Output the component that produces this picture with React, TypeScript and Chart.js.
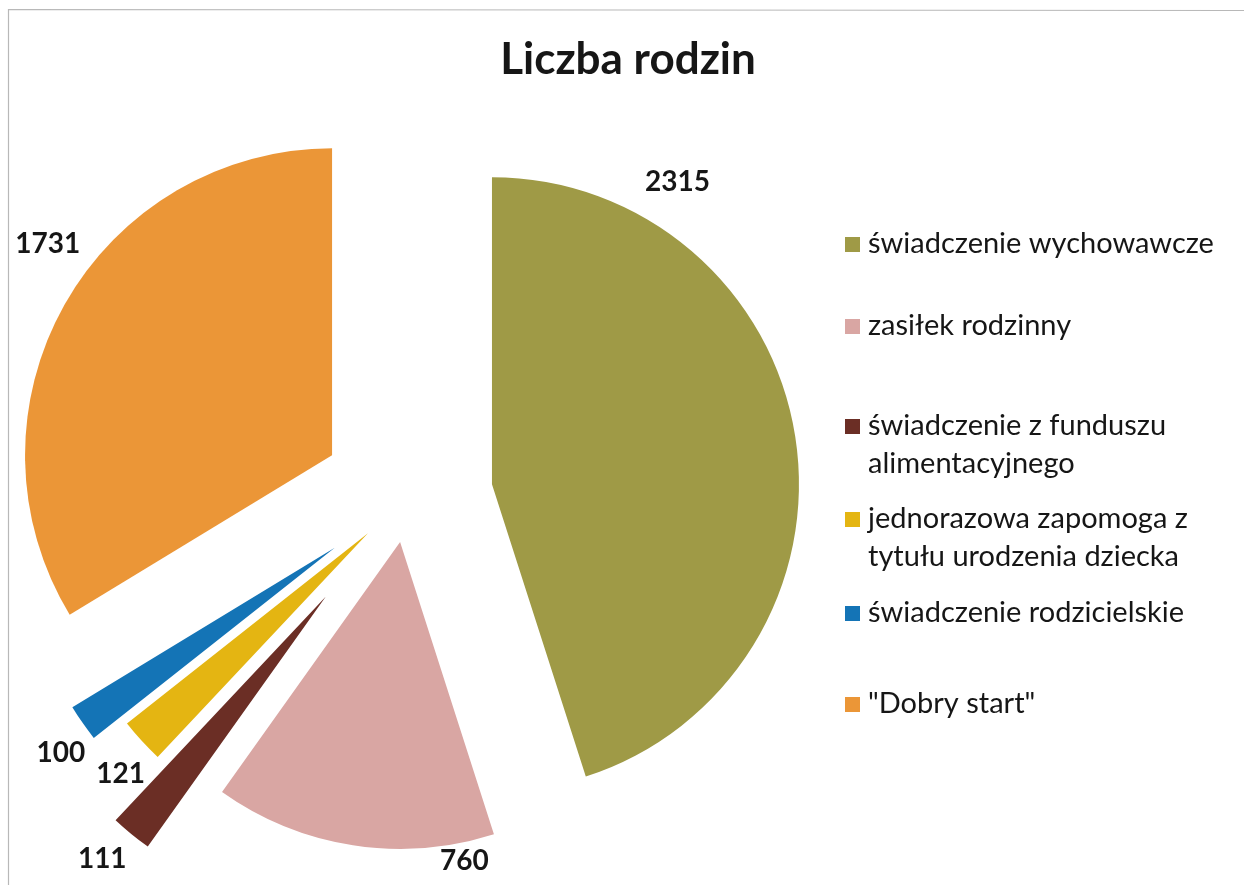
import React, { useEffect, useRef } from "react";
import { Chart, registerables } from "chart.js";

Chart.register(...registerables);

// ---- data ----
const chartTitle = "Liczba rodzin";
const categories = [
  "świadczenie wychowawcze",
  "zasiłek rodzinny",
  "świadczenie z funduszu alimentacyjnego",
  "jednorazowa zapomoga z tytułu urodzenia dziecka",
  "świadczenie rodzicielskie",
  "\"Dobry start\"",
];
const legendLines = [
  ["świadczenie wychowawcze"],
  ["zasiłek rodzinny"],
  ["świadczenie z funduszu", "alimentacyjnego"],
  ["jednorazowa zapomoga z", "tytułu urodzenia dziecka"],
  ["świadczenie rodzicielskie"],
  ["\"Dobry start\""],
];
const families = [2315, 760, 111, 121, 100, 1731];

// ---- styling ----
const sliceColors = ["#9f9a46", "#d9a6a3", "#6b2e25", "#e4b512", "#1474b6", "#eb9637"];
const explodeDist = [86, 45, 128, 53, 88, 86];
// label placement relative to each exploded slice apex: angle (deg clockwise from top), distance px
const labelAngle = [31.5, 168.6, 220.4, 225.8, 233.2, 306.6];
const labelDist = [355, 325, 345, 345, 342, 354];
const legendBaselines = [253, 335, 435, 528, 622, 713];
const legendLineGap = 37.5;
const FONT = "Lato, 'Open Sans', sans-serif";
const TEXT = "#161616";

const explodePlugin = {
  id: "explodeSlices",
  afterDatasetsUpdate(chart: any) {
    const meta = chart.getDatasetMeta(0);
    meta.data.forEach((arc: any, i: number) => {
      const mid = (arc.startAngle + arc.endAngle) / 2;
      arc.x += Math.cos(mid) * explodeDist[i];
      arc.y += Math.sin(mid) * explodeDist[i];
    });
  },
};

const decorPlugin = {
  id: "decor",
  beforeDraw(chart: any) {
    const ctx = chart.ctx;
    ctx.save();
    ctx.fillStyle = "#ffffff";
    ctx.fillRect(0, 0, chart.width, chart.height);
    ctx.strokeStyle = "#b8b8b8";
    ctx.lineWidth = 1.2;
    ctx.beginPath();
    ctx.moveTo(8.5, chart.height);
    ctx.lineTo(8.5, 9.5);
    ctx.lineTo(chart.width, 10.5);
    ctx.stroke();
    ctx.restore();
  },
  afterDatasetsDraw(chart: any) {
    const ctx = chart.ctx;
    const meta = chart.getDatasetMeta(0);
    ctx.save();
    // title
    ctx.fillStyle = TEXT;
    ctx.textAlign = "center";
    ctx.textBaseline = "alphabetic";
    ctx.font = `bold 44px ${FONT}`;
    ctx.fillText(chartTitle, 628, 74);

    // data labels
    ctx.font = `bold 28px ${FONT}`;
    ctx.textBaseline = "middle";
    meta.data.forEach((arc: any, i: number) => {
      const a = (labelAngle[i] * Math.PI) / 180;
      const x = arc.x + Math.sin(a) * labelDist[i];
      const y = arc.y - Math.cos(a) * labelDist[i];
      ctx.fillText(String(families[i]), x, y);
    });

    // legend
    ctx.textAlign = "left";
    ctx.textBaseline = "alphabetic";
    ctx.font = `29px ${FONT}`;
    legendLines.forEach((lines, i) => {
      const base = legendBaselines[i];
      ctx.fillStyle = sliceColors[i];
      ctx.fillRect(845, base - 16, 15, 15);
      ctx.fillStyle = TEXT;
      lines.forEach((ln, k) => {
        ctx.fillText(ln, 868, base + k * legendLineGap);
      });
    });
    ctx.restore();
  },
};

export default function App() {
  const ref = useRef<HTMLCanvasElement | null>(null);
  useEffect(() => {
    if (!ref.current) return;
    const chart = new Chart(ref.current, {
      type: "pie",
      data: {
        labels: categories,
        datasets: [
          {
            data: families,
            backgroundColor: sliceColors,
            borderWidth: 0,
            radius: 307,
          } as any,
        ],
      },
      options: {
        responsive: false,
        animation: false,
        events: [],
        layout: { padding: { left: 0, right: 430, top: 110, bottom: 0 } },
        plugins: {
          legend: { display: false },
          title: { display: false },
          tooltip: { enabled: false },
        },
      },
      plugins: [explodePlugin, decorPlugin],
    });
    return () => chart.destroy();
  }, []);
  return (
    <div style={{ position: "fixed", left: 0, top: 0, width: 1244, height: 885, background: "#fff" }}>
      <canvas ref={ref} width={1244} height={885} style={{ display: "block" }} />
    </div>
  );
}
